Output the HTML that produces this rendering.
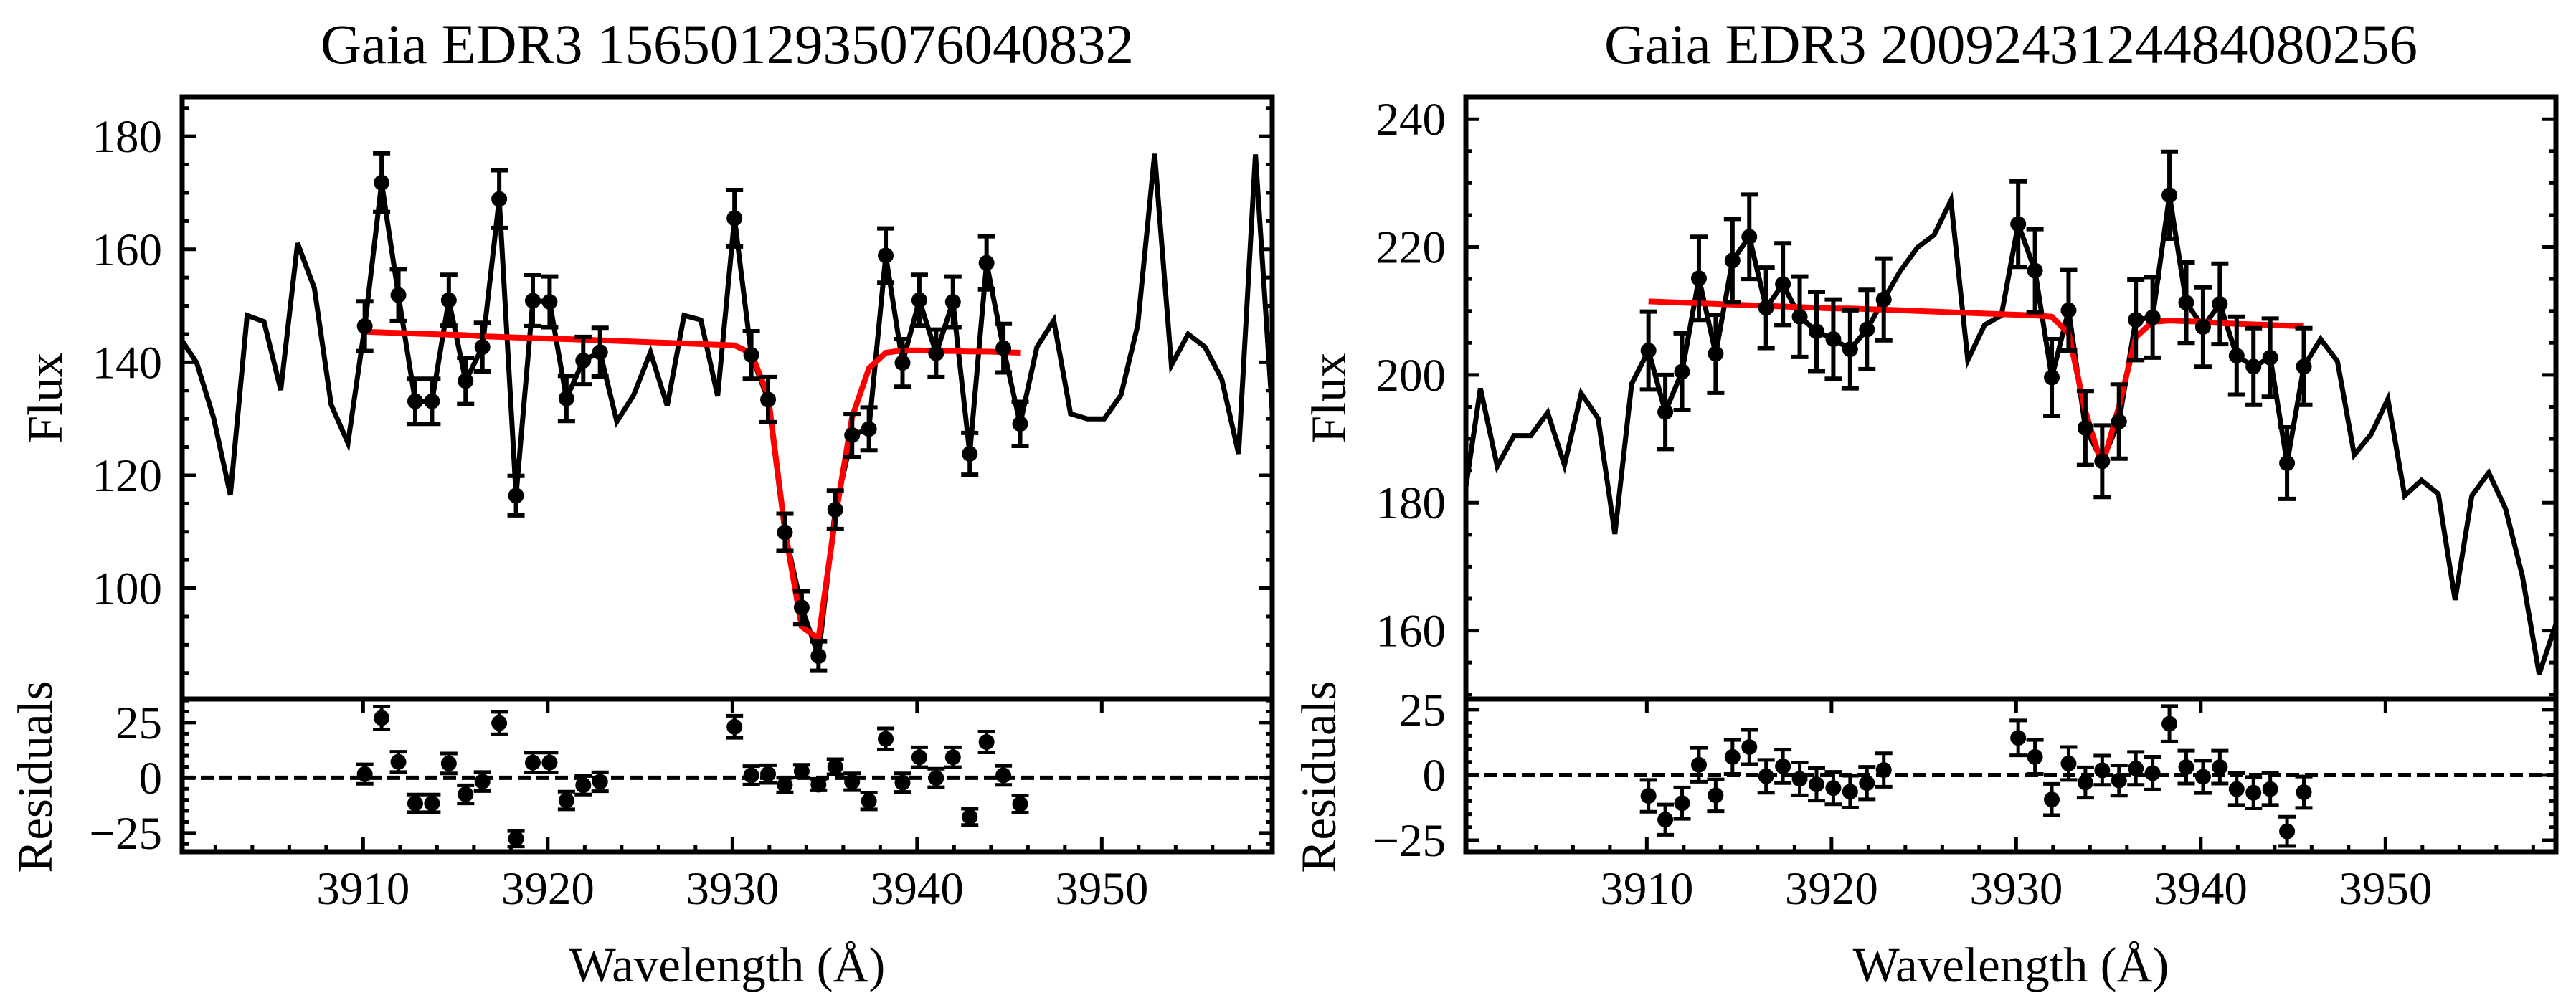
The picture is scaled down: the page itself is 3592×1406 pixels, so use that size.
<!DOCTYPE html>
<html><head><meta charset="utf-8">
<style>
html,body{margin:0;padding:0;background:#fff;}
svg{display:block;}
text{font-family:"Liberation Serif","Times New Roman",serif;fill:#000;}
</style></head>
<body>
<svg id="fig" xmlns="http://www.w3.org/2000/svg" width="3592" height="1406" viewBox="0 0 3592 1406">
<rect x="0" y="0" width="3592" height="1406" fill="#fff"/>
</svg>
<script>
// ---- data ----
const wave = [3900.08,3900.99,3901.90,3902.81,3903.72,3904.63,3905.54,3906.45,3907.36,3908.27,3909.18,3910.09,3911.00,3911.91,3912.82,3913.73,3914.64,3915.55,3916.46,3917.37,3918.28,3919.19,3920.10,3921.01,3921.92,3922.83,3923.74,3924.65,3925.56,3926.47,3927.38,3928.29,3929.20,3930.11,3931.02,3931.93,3932.84,3933.75,3934.66,3935.57,3936.48,3937.39,3938.30,3939.21,3940.12,3941.03,3941.94,3942.85,3943.76,3944.67,3945.58,3946.49,3947.40,3948.31,3949.22,3950.13,3951.04,3951.95,3952.86,3953.77,3954.68,3955.59,3956.50,3957.41,3958.32,3959.23];
const fluxA = [144.4,139.9,130.2,116.5,148.3,147.2,135.1,161.1,153.1,132.5,125.7,146.4,171.8,151.9,133.1,133.1,151.0,136.7,142.7,168.9,116.4,150.9,150.7,133.6,140.3,141.8,129.5,134.2,141.8,132.3,148.3,147.5,134.0,165.5,141.3,133.4,109.9,96.6,88.0,113.9,127.1,128.2,158.9,139.9,151.0,141.6,150.7,123.8,157.6,142.5,129.1,142.7,147.4,130.9,130.0,130.0,134.2,146.6,176.9,139.5,145.0,142.7,137.0,123.8,176.8,131.3];
const fluxB = [180.1,197.9,185.7,190.5,190.5,194.1,185.9,197.1,193.2,175.1,198.6,203.8,194.2,200.5,215.1,203.3,217.9,221.6,210.5,214.2,209.1,206.8,205.6,204.0,207.1,211.8,216.3,219.9,221.9,227.3,202.3,207.8,209.3,223.6,216.3,199.6,210.1,191.7,186.5,192.7,208.6,209.0,228.1,211.3,207.5,211.1,203.0,201.3,202.7,186.2,201.3,205.6,202.1,187.5,190.7,196.2,181.1,183.5,181.4,164.8,181.1,184.7,179.1,168.6,153.2,161.0];
const fitIdx = [11,12,13,14,15,16,17,18,19,20,21,22,23,24,25,33,34,35,36,37,38,39,40,41,42,43,44,45,46,47,48,49,50];
const errA = [4.4,5.2,4.6,4.0,4.0,4.5,4.1,4.3,5.1,3.5,4.5,4.5,4.0,4.2,4.3,5.0,4.2,4.0,3.3,2.9,2.6,3.4,3.8,3.8,4.8,4.2,4.5,4.2,4.5,3.7,4.7,4.3,3.9];
const errB = [6.1,5.8,6.0,6.5,6.1,6.5,6.6,6.3,6.4,6.3,6.2,6.2,6.1,6.2,6.4,6.7,6.5,6.0,6.3,5.8,5.6,5.8,6.3,6.3,6.8,6.3,6.2,6.3,6.1,6.0,6.1,5.6,6.0];
const modelA = [145.4,145.3,145.2,145.1,145.0,144.9,144.8,144.6,144.5,144.4,144.3,144.2,144.1,144.0,143.9,143.0,141.6,134.1,110.3,93.2,91.1,112.5,130.3,138.9,141.7,142.1,142.1,142.0,142.0,141.9,141.9,141.8,141.7];
const modelB = [211.5,211.4,211.3,211.2,211.1,211.0,210.9,210.8,210.7,210.6,210.5,210.4,210.4,210.3,210.2,209.4,209.3,209.1,206.5,194.3,185.7,195.1,205.9,208.3,208.5,208.4,208.3,208.1,208.0,207.9,207.8,207.7,207.6];
const residA = [1.7,27.1,7.2,-11.6,-11.6,6.5,-7.5,-1.7,24.8,-27.6,6.9,6.9,-10.3,-3.4,-1.8,23.1,1.1,1.7,-3.3,3.0,-3.1,5.0,-1.8,-10.5,17.6,-2.2,9.3,-0.1,9.3,-17.7,16.2,1.1,-11.9];
const residB = [-8.0,-17.1,-10.8,3.9,-7.8,6.9,10.7,-0.5,3.3,-1.5,-3.6,-5.0,-6.4,-3.1,1.9,14.2,6.9,-9.4,4.4,-2.9,1.8,-2.1,2.5,0.7,19.6,3.0,-0.7,3.0,-5.4,-6.8,-5.4,-21.6,-6.6];
const titleA = "Gaia EDR3 1565012935076040832";
const titleB = "Gaia EDR3 2009243124484080256";
const xTicks = [3910,3920,3930,3940,3950];
const fluxTicksA = [100,120,140,160,180];
const fluxTicksB = [160,180,200,220,240];
const residTicks = [-25,0,25];

// ---- layout ----
const NS = "http://www.w3.org/2000/svg";
const svg = document.getElementById('fig');
const XLIM = [3900.2, 3959.23];
const YT = 135, YD = 975, YB = 1188;

function mk(tag, attrs, parent){
  const e = document.createElementNS(NS, tag);
  for (const k in attrs) e.setAttribute(k, attrs[k]);
  (parent||svg).appendChild(e);
  return e;
}

function panel(id, x0, x1, fylim, rylim, flux, model, resid, err, title, fTicks){
  const g = mk('g', {});
  
  
  const xs = w => x0 + (w - XLIM[0]) / (XLIM[1]-XLIM[0]) * (x1-x0);
  const yf = f => YT + (fylim[1]-f) / (fylim[1]-fylim[0]) * (YD-YT);
  const yr = r => YD + (rylim[1]-r) / (rylim[1]-rylim[0]) * (YB-YD);

  const defs = mk('defs', {}, g);
  const c1 = mk('clipPath', {id: id+'-clipf'}, defs);
  mk('rect', {x:x0, y:YT, width:x1-x0, height:YD-YT}, c1);
  const c2 = mk('clipPath', {id: id+'-clipr'}, defs);
  mk('rect', {x:x0, y:YD, width:x1-x0, height:YB-YD}, c2);

  const t = mk('text', {x:(x0+x1)/2, y:88, 'font-size':78, 'text-anchor':'middle', textLength:1134, lengthAdjust:'spacingAndGlyphs'}, g);
  t.textContent = title;
  
  

  const gf = mk('g', {'clip-path':'url(#'+id+'-clipf)'}, g);
  
  
  let d = wave.map((w,i)=>(i?'L':'M')+xs(w).toFixed(1)+' '+yf(flux[i]).toFixed(1)).join(' ');
  const sp = mk('path', {d:d, fill:'none', stroke:'#000', 'stroke-width':7, 'stroke-linejoin':'miter'}, gf);
  
  
  d = fitIdx.map((k,i)=>(i?'L':'M')+xs(wave[k]).toFixed(1)+' '+yf(model[i]).toFixed(1)).join(' ');
  const ml = mk('path', {d:d, fill:'none', stroke:'#ff0000', 'stroke-width':8}, gf);
  
  
  fitIdx.forEach((k,i)=>{
    const x = xs(wave[k]), f = flux[k];
    const eb = mk('path', {d:`M${x} ${yf(f-err[i])} L${x} ${yf(f+err[i])} M${x-12} ${yf(f-err[i])} L${x+12} ${yf(f-err[i])} M${x-12} ${yf(f+err[i])} L${x+12} ${yf(f+err[i])}`, stroke:'#000', 'stroke-width':6, fill:'none'}, gf);
    
    
    const c = mk('circle', {cx:x, cy:yf(f), r:11, fill:'#000'}, gf);
    
    
  });

  const gr = mk('g', {'clip-path':'url(#'+id+'-clipr)'}, g);
  
  
  const zl = mk('line', {x1:x0, x2:x1, y1:yr(0), y2:yr(0), stroke:'#000', 'stroke-width':6, 'stroke-dasharray':'18 8'}, gr);
  
  
  fitIdx.forEach((k,i)=>{
    const x = xs(wave[k]), r = resid[i];
    const eb = mk('path', {d:`M${x} ${yr(r-err[i])} L${x} ${yr(r+err[i])} M${x-12} ${yr(r-err[i])} L${x+12} ${yr(r-err[i])} M${x-12} ${yr(r+err[i])} L${x+12} ${yr(r+err[i])}`, stroke:'#000', 'stroke-width':5, fill:'none'}, gr);
    
    
    const c = mk('ellipse', {cx:x, cy:yr(r), rx:11, ry:11, fill:'#000'}, gr);
    
    
  });

  let td = '';
  for (let v = Math.ceil(fylim[0]/5)*5; v <= fylim[1]; v += 5){
    const y = yf(v), L = (v%20===0)?19:9;
    td += `M${x0} ${y} L${x0+L} ${y} M${x1} ${y} L${x1-L} ${y} `;
  }
  for (let v = Math.ceil(rylim[0]/5)*5; v <= rylim[1]; v += 5){
    const y = yr(v), L = (v%25===0)?19:9;
    td += `M${x0} ${y} L${x0+L} ${y} M${x1} ${y} L${x1-L} ${y} `;
  }
  for (let w = 3902; w <= XLIM[1]; w += 2){
    const x = xs(w), major = (w%10===0);
    td += `M${x} ${YB} L${x} ${YB-(major?20:9)} `;
    if (major) td += `M${x} ${YD} L${x} ${YD+20} `;
  }
  const tk = mk('path', {d:td, stroke:'#000', 'stroke-width':5, fill:'none'}, g);
  
  

  const fr = mk('rect', {x:x0, y:YT, width:x1-x0, height:YB-YT, fill:'none', stroke:'#000', 'stroke-width':7}, g);
  
  
  const dv = mk('line', {x1:x0, x2:x1, y1:YD, y2:YD, stroke:'#000', 'stroke-width':7}, g);
  
  

  fTicks.forEach(v=>{
    const tl = mk('text', {x:x0-28, y:yf(v)+22, 'font-size':65, 'text-anchor':'end'}, g);
    tl.textContent = String(v);
    
    
  });
  residTicks.forEach(v=>{
    const tl = mk('text', {x:x0-28, y:yr(v)+22, 'font-size':65, 'text-anchor':'end'}, g);
    tl.textContent = v<0 ? '\u2212'+Math.abs(v) : String(v);
    
    
  });
  xTicks.forEach(v=>{
    const tl = mk('text', {x:xs(v), y:1261, 'font-size':65, 'text-anchor':'middle'}, g);
    tl.textContent = String(v);
    
    
  });
  const xl = mk('text', {x:(x0+x1)/2, y:1369, 'font-size':69, 'text-anchor':'middle'}, g);
  xl.textContent = 'Wavelength (\u00C5)';
  
  
  const fl = mk('text', {x:0, y:0, 'font-size':69, 'text-anchor':'middle', transform:`translate(${x0-168},${(YT+YD)/2}) rotate(-90)`}, g);
  fl.textContent = 'Flux';
  
  
  const rl = mk('text', {x:0, y:0, 'font-size':69, 'text-anchor':'middle', transform:`translate(${x0-182},${(YD+YB)/2+2}) rotate(-90)`}, g);
  rl.textContent = 'Residuals';
  
  
}

panel('left-panel', 254, 1774, [80.4,187.0], [-33.5,35.7], fluxA, modelA, residA, errA, titleA, fluxTicksA);
panel('right-panel', 2044, 3564, [149.3,243.5], [-29.4,29.1], fluxB, modelB, residB, errB, titleB, fluxTicksB);
</script>
</body></html>
